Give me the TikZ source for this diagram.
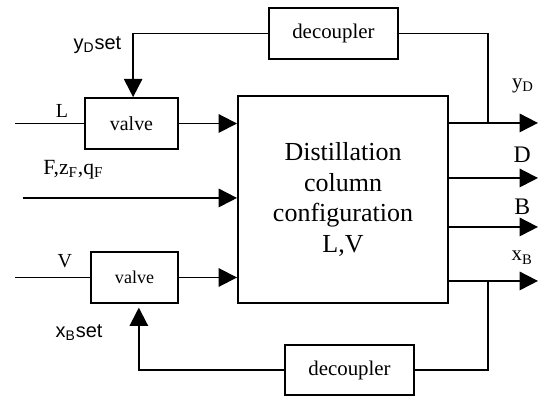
\documentclass[tikz,border=0pt]{standalone}
\usepackage{fontspec}
\setmainfont{Liberation Serif}
\setsansfont{Liberation Sans}
\usetikzlibrary{arrows.meta}

\begin{document}
\begin{tikzpicture}[
  blockbox/.style={draw, line width=1pt, minimum height=0.94cm, inner sep=0pt},
  sig/.style={line width=1pt},
  sigarrow/.style={sig, -{Triangle[length=0.34cm,width=0.34cm]}}
]
  \useasboundingbox (0,0) rectangle (10,7.333);

  % Column block in the middle
  \node[blockbox, minimum width=3.89cm, minimum height=3.83cm, align=center, font=\fontsize{13.7}{16.3}\selectfont] (column) at (6.352, 3.639) {Distillation\\column\\configuration\\L,V};

  % Valves on the left
  \node[blockbox, minimum width=1.72cm, font=\fontsize{10.5}{12}\selectfont] (valveL) at (2.435, 5.046) {valve};
  \node[blockbox, minimum width=1.61cm, font=\fontsize{9.5}{11}\selectfont] (valveV) at (2.491, 2.194) {valve};

  % Decouplers (top and bottom)
  \node[blockbox, minimum width=2.39cm, font=\fontsize{11}{13}\selectfont] (decTop) at (6.175, 6.713) {decoupler};
  \node[blockbox, minimum width=2.39cm, minimum height=0.93cm, font=\fontsize{11}{13}\selectfont] (decBot) at (6.472, 0.481) {decoupler};

  % Inputs: L, F, V
  \coordinate (Lin) at (0.278, 5.046);
  \coordinate (Fin) at (0.426, 3.667);
  \coordinate (Vin) at (0.278, 2.194);
  \draw[sig] (Lin) -- (valveL);
  \draw[sigarrow] (valveL) -- (valveL -| column.west);
  \draw[sigarrow] (Fin) -- (Fin -| column.west);
  \draw[sig] (Vin) -- (valveV);
  \draw[sigarrow] (valveV) -- (valveV -| column.west);

  \node[font=\fontsize{10.5}{12}\selectfont] (labL) at (1.148, 5.28) {L};
  \node[font=\fontsize{11.4}{13}\selectfont] (labF) at (1.36, 4.19) {F,z\textsubscript{F},q\textsubscript{F}};
  \node[font=\fontsize{10.5}{12}\selectfont] (labV) at (1.2, 2.50) {V};

  % Outputs: yD, D, B, xB
  \coordinate (yDend) at (9.963, 5.056);
  \coordinate (Dend) at (9.963, 4.037);
  \coordinate (Bend) at (9.963, 3.130);
  \coordinate (xBend) at (9.963, 2.130);
  \draw[sigarrow] (column.east |- yDend) -- (yDend);
  \draw[sigarrow] (column.east |- Dend) -- (Dend);
  \draw[sigarrow] (column.east |- Bend) -- (Bend);
  \draw[sigarrow] (column.east |- xBend) -- (xBend);

  \node[font=\fontsize{11}{13}\selectfont] (labyD) at (9.685, 5.74) {y\textsubscript{D}};
  \node[font=\fontsize{12.5}{14}\selectfont] (labD) at (9.67, 4.46) {D};
  \node[font=\fontsize{12.5}{14}\selectfont] (labB) at (9.67, 3.50) {B};
  \node[font=\fontsize{11}{13}\selectfont] (labxB) at (9.67, 2.56) {x\textsubscript{B}};

  % Feedback loops through the decouplers
  \coordinate (yDtap) at (9.037, 5.056);
  \coordinate (xBtap) at (9.037, 2.130);
  \draw[sig] (decTop.east) -| (yDtap);
  \draw[sigarrow] (decTop.west) -| ([xshift=0.03cm]valveL.north);
  \draw[sig] (xBtap) |- (decBot.east);
  \draw[sigarrow] (decBot.west) -| ([shift={(0.08,-0.07)}]valveV.south);

  \node[anchor=east, font=\sffamily\fontsize{10.5}{12}\selectfont] (labyDset) at (2.37, 6.5) {y\textsubscript{D}set};
  \node[font=\sffamily\fontsize{10.5}{12}\selectfont] (labxBset) at (1.463, 1.167) {x\textsubscript{B}set};
\end{tikzpicture}
\end{document}
